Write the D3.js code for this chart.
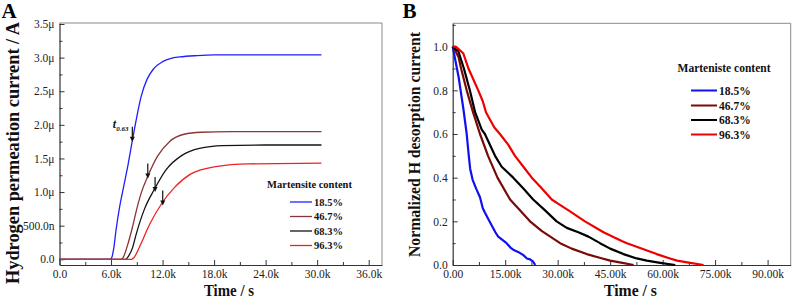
<!DOCTYPE html>
<html>
<head>
<meta charset="utf-8">
<script src="https://cdn.jsdelivr.net/npm/d3@7"></script>
<style>
  body { margin: 0; background: #fff; }
  text { font-family: "Liberation Serif", "Times New Roman", serif; }
  .tick line { stroke: #333; }
  .domain { stroke: #333; }
</style>
</head>
<body>
<svg id="chart" width="803" height="305"></svg>
<script>
// ---- data ----
const contentLabels = ['18.5%', '46.7%', '68.3%', '96.3%'];

// A: hydrogen permeation current (time in ks, current in μA)
const permBlue = [[0,0],[5.9,0],[6.1,0.03],[6.3,0.15],[6.6,0.45],[7.0,0.78],[7.5,1.1],[8.0,1.42],[8.5,1.78],[9.0,2.12],[9.5,2.42],[10.2,2.68],[11,2.84],[12,2.94],[13,2.99],[14,3.01],[16,3.03],[18,3.04],[22,3.04],[30.5,3.04]];
const permBrown = [[0,0],[7.2,0],[7.5,0.05],[7.9,0.2],[8.5,0.48],[9.0,0.75],[9.5,0.98],[10.3,1.24],[11.4,1.53],[12.8,1.75],[14.5,1.86],[16.5,1.89],[20,1.9],[30.5,1.9]];
const permBlack = [[0,0],[7.7,0],[8.0,0.04],[8.5,0.17],[8.9,0.36],[9.9,0.75],[11.0,1.03],[12.4,1.33],[14.3,1.55],[16.3,1.65],[19,1.69],[24,1.7],[30.5,1.7]];
const permRed = [[0,0],[8.4,0],[8.7,0.03],[9.3,0.18],[10.5,0.52],[11.9,0.83],[13.4,1.07],[15.3,1.27],[18.2,1.38],[22,1.42],[30.5,1.43]];

// t0.63 arrows (time in ks, current in μA at arrow tip)
const arrowTimes = [8.48, 10.28, 11.13, 12.02];
const arrowValues = [1.75, 1.2, 1.0, 0.8];

// B: normalized H desorption current (time in ks)
const desBlue = [[0,1],[0.6,0.95],[1.7,0.86],[3.1,0.71],[4.0,0.6],[4.6,0.5],[5.0,0.44],[5.7,0.39],[6.7,0.35],[7.8,0.31],[8.6,0.26],[9.2,0.24],[10.2,0.21],[11.2,0.18],[12.2,0.15],[13,0.13],[14.2,0.115],[15.4,0.1],[16.5,0.08],[17.3,0.07],[18.7,0.06],[20.2,0.045],[21.2,0.03],[22.1,0.026],[23.0,0.015],[23.6,0]];
const desBrown = [[0,1],[0.8,0.98],[1.7,0.95],[2.4,0.9],[4.0,0.8],[5.8,0.7],[7.8,0.6],[10.1,0.5],[12.8,0.4],[16.4,0.3],[22.1,0.2],[25.5,0.155],[30.7,0.1],[34,0.075],[38.3,0.05],[42,0.033],[45,0.02],[48.5,0.01],[51.7,0]];
const desBlack = [[0,1],[0.7,0.99],[1.6,0.98],[3.2,0.9],[4.9,0.8],[6.4,0.7],[8.3,0.62],[9.2,0.6],[12.1,0.5],[14,0.45],[17.3,0.4],[20.2,0.35],[23,0.3],[26.4,0.25],[29.7,0.2],[32.6,0.17],[35.9,0.15],[38.8,0.13],[42.1,0.1],[45,0.075],[48.8,0.05],[52.6,0.03],[55.5,0.02],[59.3,0.01],[63.6,0]];
const desRed = [[0,1],[0.8,1.0],[1.6,0.99],[3.0,0.97],[4.5,0.9],[7.3,0.8],[8.6,0.75],[9.5,0.7],[11.9,0.63],[13.5,0.6],[15.9,0.55],[17.8,0.5],[20.2,0.45],[22.6,0.4],[25.5,0.35],[28.3,0.3],[30.2,0.28],[33.1,0.25],[37.8,0.2],[43.1,0.15],[48.3,0.11],[49.8,0.1],[58.3,0.05],[62.1,0.03],[64.1,0.02],[67.9,0.01],[71.7,0]];

// ticks
const aXTicks = [0, 6, 12, 18, 24, 30, 36];
const aXLabels = ['0.0', '6.0k', '12.0k', '18.0k', '24.0k', '30.0k', '36.0k'];
const aYTicks = [0, 0.5, 1.0, 1.5, 2.0, 2.5, 3.0, 3.5];
const aYLabels = ['0.0', '500.0n', '1.0\u03bc', '1.5\u03bc', '2.0\u03bc', '2.5\u03bc', '3.0\u03bc', '3.5\u03bc'];
const bXTicks = [0, 15, 30, 45, 60, 75, 90];
const bXLabels = ['0.00', '15.00k', '30.00k', '45.00k', '60.00k', '75.00k', '90.00k'];
const bYTicks = [0, 0.2, 0.4, 0.6, 0.8, 1.0];
const bYLabels = ['0.0', '0.2', '0.4', '0.6', '0.8', '1.0'];

const serif = '"Liberation Serif", "Times New Roman", serif';
const svg = d3.select('#chart');

const drawPanel = (parent, props) => {
  const { frame, xDomain, yDomain, xTicks, xLabels, yTicks, yLabels, xMinorStep, yMinorStep, series, colors, lineWidth, curve } = props;

  const x = d3.scaleLinear().domain(xDomain).range([frame.left, frame.right]);
  const y = d3.scaleLinear().domain(yDomain).range([frame.bottom, frame.top]);
  const g = parent.append('g');

  // grey top/right border
  g.append('path')
    .attr('d', `M${frame.left},${frame.top}H${frame.right}V${frame.bottom}`)
    .attr('fill', 'none').attr('stroke', '#8a8a8a').attr('stroke-width', 1);

  const xMinor = d3.range(xDomain[0] + xMinorStep, xDomain[1], xMinorStep * 2);
  const yMinor = d3.range(yTicks[0] + yMinorStep, yDomain[1], yMinorStep * 2);

  // minor ticks (inward)
  g.append('g').attr('transform', `translate(0,${frame.bottom})`)
    .call(d3.axisBottom(x).tickValues(xMinor).tickSize(-3).tickSizeOuter(0).tickFormat(''))
    .call(a => a.select('.domain').remove());
  g.append('g').attr('transform', `translate(${frame.left},0)`)
    .call(d3.axisLeft(y).tickValues(yMinor).tickSize(-3).tickSizeOuter(0).tickFormat(''))
    .call(a => a.select('.domain').remove());

  // major ticks + labels
  g.append('g').attr('transform', `translate(0,${frame.bottom})`)
    .call(d3.axisBottom(x).tickValues(xTicks).tickSize(-5).tickSizeOuter(0).tickPadding(5)
      .tickFormat((d, i) => xLabels[i]));
  g.append('g').attr('transform', `translate(${frame.left},0)`)
    .call(d3.axisLeft(y).tickValues(yTicks).tickSize(-5).tickSizeOuter(0).tickPadding(5)
      .tickFormat((d, i) => yLabels[i]));
  g.selectAll('.domain').attr('stroke-width', 1.2);
  g.selectAll('.tick text')
    .attr('font-family', serif).attr('font-size', 11.5).attr('fill', '#222');

  const line = d3.line().x(d => x(d[0])).y(d => y(d[1])).curve(curve);
  g.selectAll('path.series').data(series)
    .enter().append('path')
      .attr('class', 'series')
      .attr('d', line)
      .attr('fill', 'none')
      .attr('stroke', (d, i) => colors[i])
      .attr('stroke-width', lineWidth)
      .attr('stroke-linejoin', 'round');

  return { x, y, g };
};

const drawLegend = (g, props) => {
  const { title, titleX, titleY, lineX0, lineX1, rowYs, colors, fontSize, lineWidth } = props;
  g.append('text')
    .attr('x', titleX).attr('y', titleY)
    .attr('text-anchor', 'middle').attr('dominant-baseline', 'central')
    .attr('font-family', serif)
    .attr('font-size', fontSize).attr('font-weight', 'bold').attr('fill', '#111')
    .text(title);
  const rows = g.selectAll('g.leg').data(contentLabels).enter().append('g').attr('class', 'leg');
  rows.append('line')
    .attr('x1', lineX0).attr('x2', lineX1)
    .attr('y1', (d, i) => rowYs[i]).attr('y2', (d, i) => rowYs[i])
    .attr('stroke', (d, i) => colors[i]).attr('stroke-width', lineWidth);
  rows.append('text')
    .attr('x', lineX1 + 2).attr('y', (d, i) => rowYs[i])
    .attr('dominant-baseline', 'central')
    .attr('font-family', serif)
    .attr('font-size', fontSize).attr('font-weight', 'bold').attr('fill', '#111')
    .text(d => d);
};

// ---- Panel A ----
const colorsA = ['#1f1fff', '#8b3535', '#141414', '#ee2222'];
const A = drawPanel(svg, {
  frame: { left: 59.5, right: 382, top: 23, bottom: 265 },
  xDomain: [0, 37.55], yDomain: [-0.085, 3.515],
  xTicks: aXTicks, xLabels: aXLabels, yTicks: aYTicks, yLabels: aYLabels,
  xMinorStep: 3, yMinorStep: 0.25,
  series: [permBlue, permBrown, permBlack, permRed],
  colors: colorsA, lineWidth: 1.3, curve: d3.curveMonotoneX
});

// t0.63 arrows
const arrowLen = 15;
arrowTimes.forEach((t, i) => {
  const ax = A.x(t), ay = A.y(arrowValues[i]);
  A.g.append('line')
    .attr('x1', ax).attr('x2', ax).attr('y1', ay - arrowLen).attr('y2', ay - 4)
    .attr('stroke', '#111').attr('stroke-width', 1.2);
  A.g.append('path')
    .attr('d', `M${ax - 2.5},${ay - 5}L${ax + 2.5},${ay - 5}L${ax},${ay}Z`)
    .attr('fill', '#111');
});
const tLabel = A.g.append('text')
  .attr('x', A.x(arrowTimes[0]) - 19.5).attr('y', A.y(arrowValues[0]) - arrowLen + 1)
  .attr('font-family', serif)
  .attr('font-weight', 'bold').attr('font-style', 'italic').attr('fill', '#111');
tLabel.append('tspan').attr('font-size', 12).text('t');
tLabel.append('tspan').attr('font-size', 7).attr('dy', 3).text('0.63');

drawLegend(A.g, {
  title: 'Martensite content', titleX: 309.5, titleY: 184.5,
  lineX0: 290, lineX1: 312, rowYs: [202, 216.5, 231, 245.5],
  colors: colorsA, fontSize: 10.5, lineWidth: 1.3
});

A.g.append('text')
  .attr('transform', 'translate(19,284) rotate(-90)')
  .attr('font-family', serif)
  .attr('font-size', 18).attr('font-weight', 'bold').attr('fill', '#111')
  .attr('textLength', 262).attr('lengthAdjust', 'spacingAndGlyphs')
  .text('Hydrogen permeation current / A');
A.g.append('text')
  .attr('x', 204).attr('y', 296)
  .attr('font-family', serif)
  .attr('font-size', 16).attr('font-weight', 'bold').attr('fill', '#111')
  .attr('textLength', 50).attr('lengthAdjust', 'spacingAndGlyphs')
  .text('Time / s');
A.g.append('text')
  .attr('x', 1.5).attr('y', 18)
  .attr('font-family', '"Liberation Sans", Arial, sans-serif')
  .attr('font-size', 21).attr('font-weight', 'bold').attr('fill', '#000')
  .text('A');

// ---- Panel B ----
const colorsB = ['#1010f0', '#7a0a0a', '#000000', '#ee0000'];
const B = drawPanel(svg, {
  frame: { left: 452.7, right: 790.7, top: 23.3, bottom: 265 },
  xDomain: [0, 96.6], yDomain: [0, 1.107],
  xTicks: bXTicks, xLabels: bXLabels, yTicks: bYTicks, yLabels: bYLabels,
  xMinorStep: 7.5, yMinorStep: 0.1,
  series: [desBlue, desBrown, desBlack, desRed],
  colors: colorsB, lineWidth: 2.2, curve: d3.curveLinear
});

drawLegend(B.g, {
  title: 'Marteniste content', titleX: 724, titleY: 68,
  lineX0: 691, lineX1: 717, rowYs: [90.5, 105.5, 120, 134.5],
  colors: colorsB, fontSize: 11.5, lineWidth: 2
});

B.g.append('text')
  .attr('transform', 'translate(420,257) rotate(-90)')
  .attr('font-family', serif)
  .attr('font-size', 15.7).attr('font-weight', 'bold').attr('fill', '#111')
  .attr('textLength', 225).attr('lengthAdjust', 'spacingAndGlyphs')
  .text('Normalized H desorption current');
B.g.append('text')
  .attr('x', 604).attr('y', 296)
  .attr('font-family', serif)
  .attr('font-size', 16).attr('font-weight', 'bold').attr('fill', '#111')
  .attr('textLength', 53).attr('lengthAdjust', 'spacingAndGlyphs')
  .text('Time / s');
B.g.append('text')
  .attr('x', 402.5).attr('y', 18)
  .attr('font-family', '"Liberation Sans", Arial, sans-serif')
  .attr('font-size', 21).attr('font-weight', 'bold').attr('fill', '#000')
  .text('B');
</script>
</body>
</html>
